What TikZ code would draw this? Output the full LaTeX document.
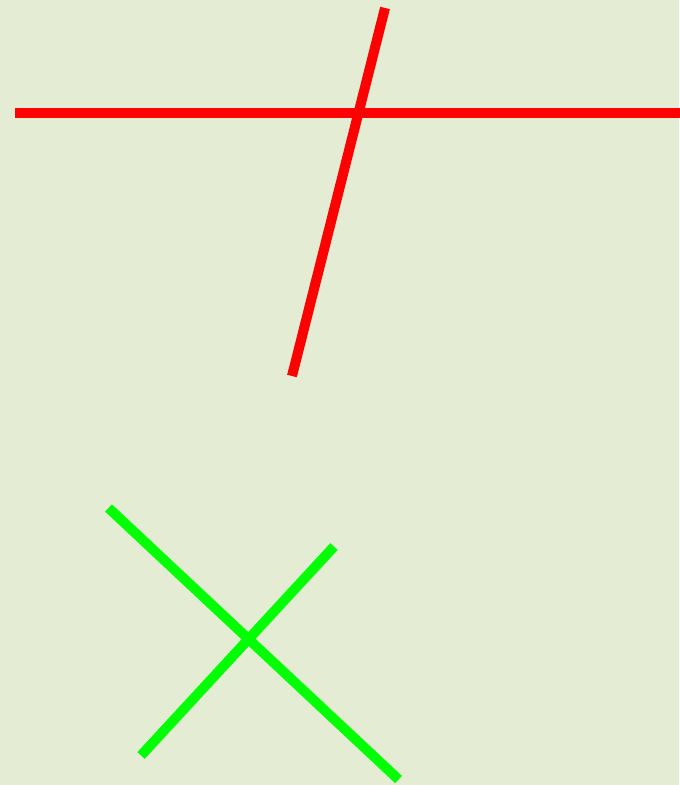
\documentclass[tikz,border=0pt]{standalone}
\usepackage{tikz}
\definecolor{Paper}{HTML}{E4ECD4}
\definecolor{Stroke}{HTML}{FF0000}
\definecolor{Leaf}{HTML}{00FF00}
\tikzset{
    redline/.style={draw=Stroke, line width=5pt, line cap=butt},
    greenline/.style={draw=Leaf, line width=5pt, line cap=butt},
}
\begin{document}
\begin{tikzpicture}[x=0.5pt, y=-0.5pt]
    % Background
    \fill[Paper] (0,0) rectangle (679,785);
    \useasboundingbox (0,0) rectangle (679,785);

    % Red cross
    \draw[redline] (15,113) -- (684,113);
    \draw[redline] (385,8) -- (292,376);

    % Green cross
    \draw[greenline] (108.5,508) -- (398.5,779.5);
    \draw[greenline] (334,546.5) -- (141,755.5);
\end{tikzpicture}
\end{document}
